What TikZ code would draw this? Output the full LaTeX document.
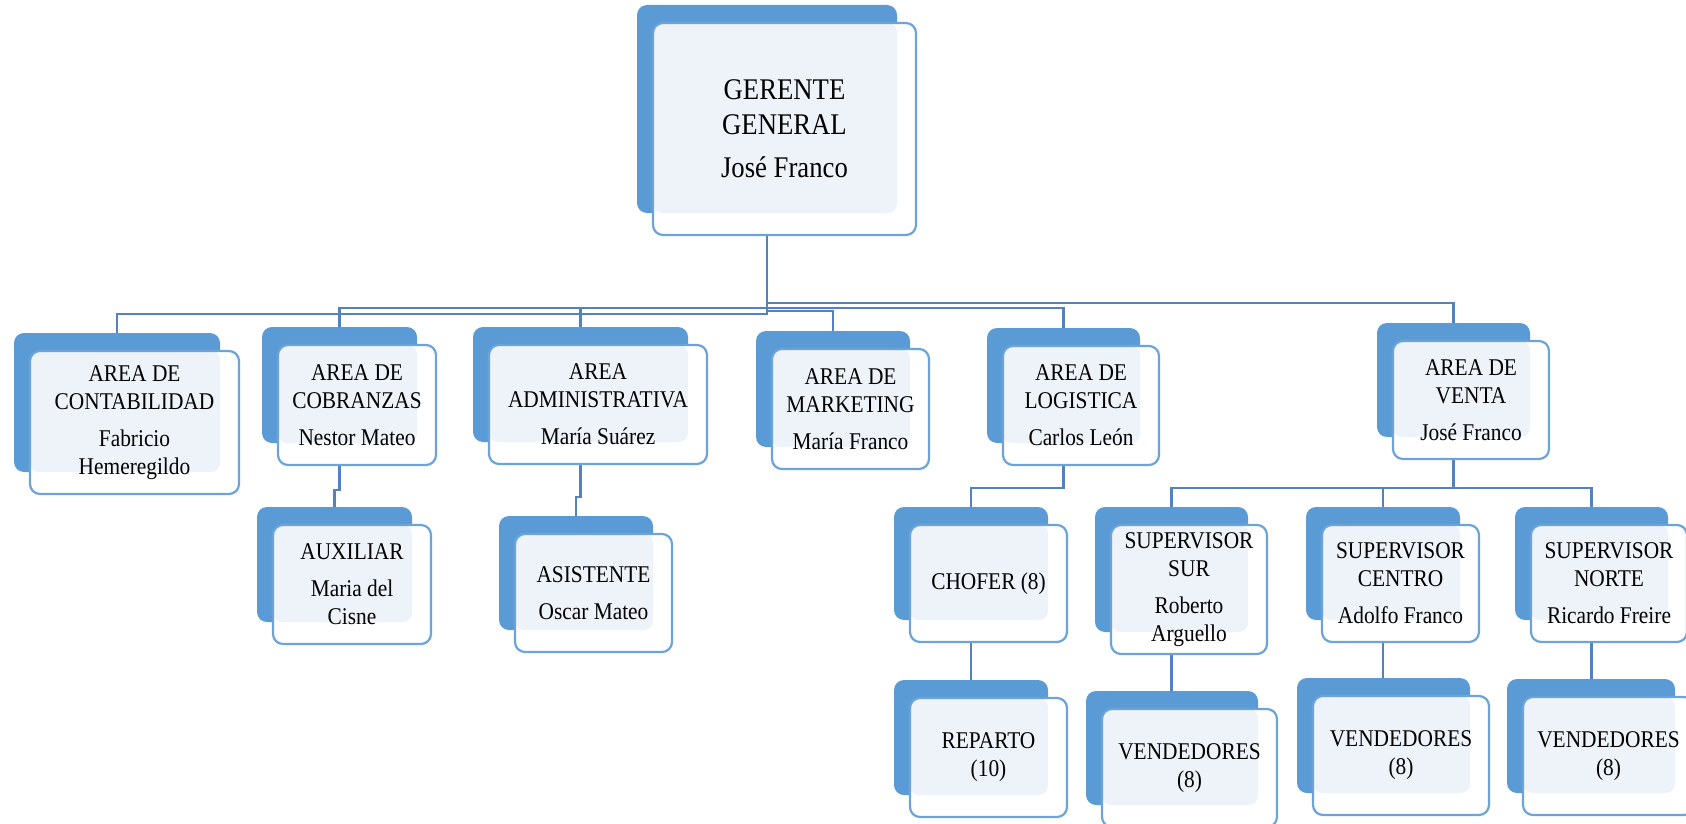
\documentclass[tikz,border=0pt]{standalone}
\usepackage{fontspec}
\setmainfont{Liberation Serif}[FakeStretch=0.89]
\definecolor{backc}{RGB}{91,155,213}
\definecolor{bordc}{RGB}{108,163,217}
\definecolor{lightc}{RGB}{238,243,250}
\definecolor{linec}{RGB}{84,130,190}
\pgfdeclarelayer{paper}
\pgfdeclarelayer{bg}
\pgfsetlayers{paper,bg,main}
\tikzset{
  backbox/.style={rectangle, rounded corners=10pt, fill=backc, inner sep=0pt, outer sep=0pt},
  frontbox/.style={rectangle, rounded corners=10pt, fill=white, inner sep=0pt, outer sep=0pt},
  bord/.style={draw=bordc, line width=2.2pt, rounded corners=10pt},
  txt/.style={align=center, inner sep=0pt, font=\fontsize{24}{28}\selectfont},
  bigtxt/.style={align=center, inner sep=0pt, font=\fontsize{30}{35}\selectfont},
  conn/.style={draw=linec, line width=2.2pt}
}
% [text style] name, back x1,y1,x2,y2, text
\newcommand\orgbox[7][txt]{%
  \node[backbox, anchor=north west, minimum width={#5-#3}, minimum height={#6-#4}] (#2) at (#3,#4) {};
  \node[frontbox, anchor=north west, minimum width={#5-#3+3}, minimum height={#6-#4+4}] (#2f) at (#3+16,#4+18) {};
  \fill[lightc, rounded corners=9pt] (#2f.north west) rectangle (#2.south east);
  \draw[bord] (#2f.north west) rectangle (#2f.south east);
  \node[#1] (#2t) at (#2f.center) {#7};
}
\begin{document}
\begin{tikzpicture}[x=1pt,y=-1pt]
\begin{pgfonlayer}{paper}
\fill[white] (0,0) rectangle (1686,824);
\end{pgfonlayer}
\useasboundingbox (0,0) rectangle (1686,824);
\orgbox[bigtxt]{gg}{637}{5}{897}{213}{GERENTE\\GENERAL\\[8pt]José Franco}
\orgbox{cont}{14}{333}{220}{472}{AREA DE\\CONTABILIDAD\\[9pt]Fabricio\\Hemeregildo}
\orgbox{cob}{262}{327}{417}{443}{AREA DE\\COBRANZAS\\[9pt]Nestor Mateo}
\orgbox{adm}{473}{327}{688}{442}{AREA\\ADMINISTRATIVA\\[9pt]María Suárez}
\orgbox{mkt}{756}{331}{910}{447}{AREA DE\\MARKETING\\[9pt]María Franco}
\orgbox{log}{987}{328}{1140}{443}{AREA DE\\LOGISTICA\\[9pt]Carlos León}
\orgbox{ven}{1377}{323}{1530}{437}{AREA DE\\VENTA\\[9pt]José Franco}
\orgbox{aux}{257}{507}{412}{622}{AUXILIAR\\[9pt]Maria del\\Cisne}
\orgbox{asi}{499}{516}{653}{630}{ASISTENTE\\[9pt]Oscar Mateo}
\orgbox{cho}{894}{507}{1048}{620}{CHOFER (8)}
\orgbox{rep}{894}{680}{1048}{795}{REPARTO\\(10)}
\orgbox{sur}{1095}{507}{1248}{632}{SUPERVISOR\\SUR\\[9pt]Roberto\\Arguello}
\orgbox{vsur}{1086}{691}{1258}{805}{VENDEDORES\\(8)}
\orgbox{cen}{1306}{507}{1460}{620}{SUPERVISOR\\CENTRO\\[9pt]Adolfo Franco}
\orgbox{vcen}{1297}{678}{1470}{793}{VENDEDORES\\(8)}
\orgbox{nor}{1515}{507}{1668}{620}{SUPERVISOR\\NORTE\\[9pt]Ricardo Freire}
\orgbox{vnor}{1507}{679}{1675}{793}{VENDEDORES\\(8)}
\coordinate (h1) at (0,314);
\coordinate (h2) at (0,308);
\coordinate (h3) at (0,311);
\coordinate (h4) at (0,303);
\coordinate (hC) at (0,490);
\coordinate (hA) at (0,497);
\coordinate (hL) at (0,488);
\coordinate (hV) at (0,488);
\begin{pgfonlayer}{bg}
\draw[conn] (gg.south) -- (gg.south |- h1) -| (cont.north);
\draw[conn] (gg.south) -- (gg.south |- h2) -| (cob.north);
\draw[conn] (gg.south |- h2) -| (adm.north);
\draw[conn] (gg.south) -- (gg.south |- h3) -| (mkt.north);
\draw[conn] (gg.south |- h2) -| (log.north);
\draw[conn] (gg.south) -- (gg.south |- h4) -| (ven.north);
\draw[conn] (cob.south) -- (cob.south |- hC) -| (aux.north);
\draw[conn] (adm.south) -- (adm.south |- hA) -| (asi.north);
\draw[conn] (log.south) -- (log.south |- hL) -| (cho.north);
\draw[conn] (cho.south) -- (cho.south |- rep.north);
\draw[conn] (ven.south) -- (ven.south |- hV) -| (sur.north);
\draw[conn] (ven.south |- hV) -| (cen.north);
\draw[conn] (ven.south |- hV) -| (nor.north);
\draw[conn] (sur.south) -- (sur.south |- vsur.north);
\draw[conn] (cen.south) -- (cen.south |- vcen.north);
\draw[conn] (nor.south) -- (nor.south |- vnor.north);
\end{pgfonlayer}
\end{tikzpicture}
\end{document}
